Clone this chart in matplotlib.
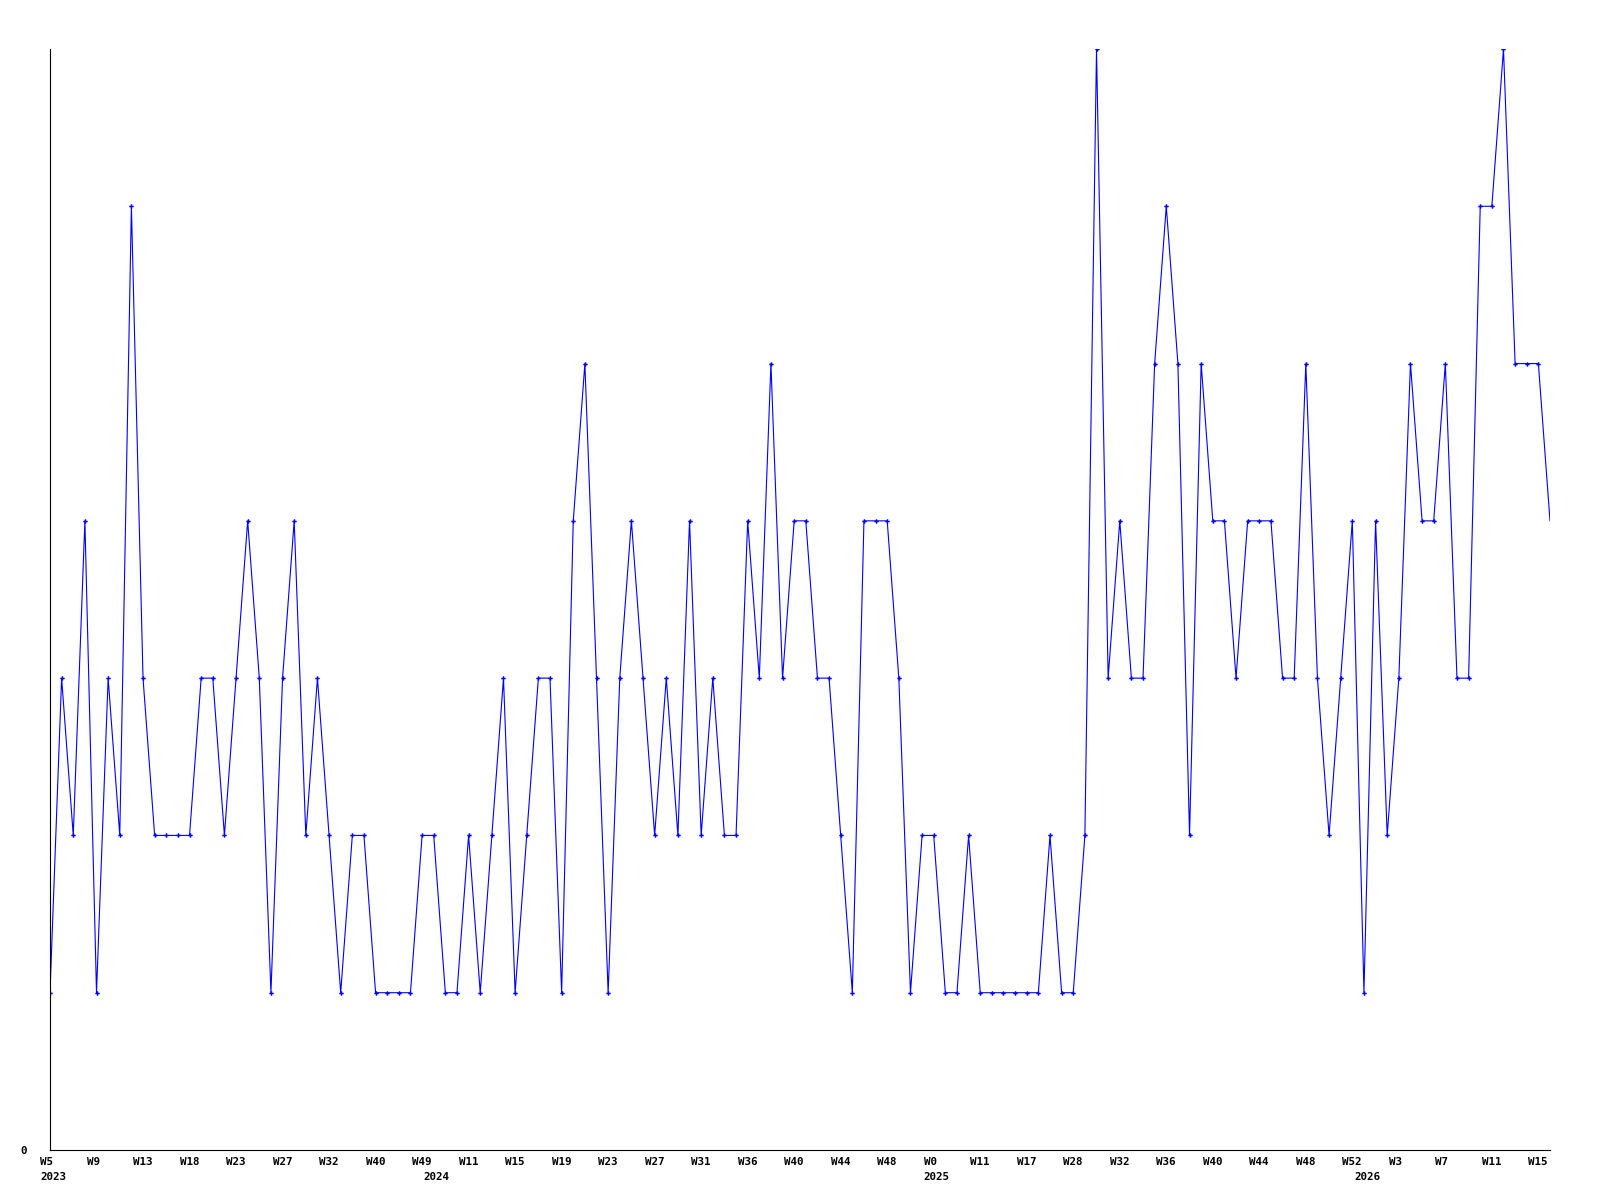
import matplotlib
matplotlib.use('Agg')
import matplotlib.pyplot as plt
from matplotlib.transforms import ScaledTranslation

# weekly values (one per data point, categorical x axis)
values = [1, 3, 2, 4, 1, 3, 2, 6, 3, 2,
          2, 2, 2, 3, 3, 2, 3, 4, 3, 1,
          3, 4, 2, 3, 2, 1, 2, 2, 1, 1,
          1, 1, 2, 2, 1, 1, 2, 1, 2, 3,
          1, 2, 3, 3, 1, 4, 5, 3, 1, 3,
          4, 3, 2, 3, 2, 4, 2, 3, 2, 2,
          4, 3, 5, 3, 4, 4, 3, 3, 2, 1,
          4, 4, 4, 3, 1, 2, 2, 1, 1, 2,
          1, 1, 1, 1, 1, 1, 2, 1, 1, 2,
          7, 3, 4, 3, 3, 5, 6, 5, 2, 5,
          4, 4, 3, 4, 4, 4, 3, 3, 5, 3,
          2, 3, 4, 1, 4, 2, 3, 5, 4, 4,
          5, 3, 3, 6, 6, 7, 5, 5, 5, 4]

# tick labels, one every 4 points
week_labels = ["W5", "W9", "W13", "W18", "W23", "W27", "W32", "W40", "W49",
               "W11", "W15", "W19", "W23", "W27", "W31", "W36", "W40", "W44",
               "W48", "W0", "W11", "W17", "W28", "W32", "W36", "W40", "W44",
               "W48", "W52", "W3", "W7", "W11", "W15"]
year_labels = ["2023", "2024", "2025", "2026"]
year_index = [0, 33, 76, 113]

FONT = dict(family="DejaVu Sans Mono", weight="bold", size=7.8)

fig = plt.figure(figsize=(16, 12), dpi=100)
ax = fig.add_axes([50 / 1600, 50 / 1200, 1500 / 1600, 1101 / 1200])

x = list(range(len(values)))
ax.plot(x, values, color="#0000ff", lw=0.8, marker="P", ms=3.2, mew=0,
        markevery=list(range(len(values) - 1)), mfc="#0000ff")

ax.set_xlim(0, len(values) - 1)
ax.set_ylim(0, 7)

for s in ("top", "right"):
    ax.spines[s].set_visible(False)
for s in ("left", "bottom"):
    ax.spines[s].set_linewidth(0.8)
    ax.spines[s].set_color("black")

tick_pos = list(range(0, len(values), 4))[:len(week_labels)]
ax.set_xticks(tick_pos)
ax.set_xticklabels(week_labels, ha="left", **FONT)
ax.tick_params(axis="x", length=0, pad=5)
off = ScaledTranslation(-10 / 100, 0, fig.dpi_scale_trans)
for lab in ax.get_xticklabels():
    lab.set_transform(lab.get_transform() + off)

ax.set_yticks([0])
ax.set_yticklabels(["0"], **FONT)
ax.tick_params(axis="y", length=0, pad=17)

for yr, idx in zip(year_labels, year_index):
    ax.annotate(yr, xy=(idx, 0), xycoords=("data", "axes fraction"),
                xytext=(-10, -27), textcoords="offset pixels",
                ha="left", va="center", **FONT)

fig.savefig("out.png", dpi=100)
